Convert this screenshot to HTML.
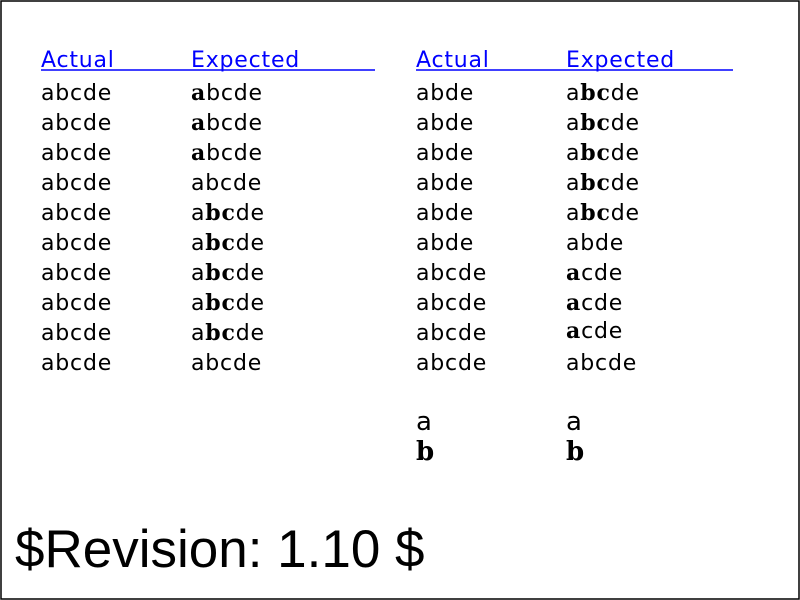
<!DOCTYPE html>
<html><head><style>body{margin:0;background:#fff}svg{display:block}</style></head><body>
<svg width="800" height="600" xmlns="http://www.w3.org/2000/svg">
<rect x="1" y="1" width="798" height="598" fill="#fff" stroke="#000" stroke-width="1.5"/>
<g font-family="DejaVu Sans, sans-serif" font-size="22" fill="#000" letter-spacing="0.8">
<g fill="#00f"><text x="41" y="67">Actual</text><text x="191" y="67">Expected</text>
<text x="416" y="67">Actual</text><text x="566" y="67">Expected</text></g>
<line x1="41" y1="70" x2="375" y2="70" stroke="#00f" stroke-width="1.5"/>
<line x1="416" y1="70" x2="733" y2="70" stroke="#00f" stroke-width="1.5"/>
<text x="41" y="100">abcde</text><text x="41" y="130">abcde</text><text x="41" y="160">abcde</text><text x="41" y="190">abcde</text><text x="41" y="220">abcde</text>
<text x="41" y="250">abcde</text><text x="41" y="280">abcde</text><text x="41" y="310">abcde</text><text x="41" y="340">abcde</text><text x="41" y="370">abcde</text>
<text x="191" y="100"><tspan font-family="DejaVu Serif, serif" font-weight="bold">a</tspan>bcde</text>
<text x="191" y="130"><tspan font-family="DejaVu Serif, serif" font-weight="bold">a</tspan>bcde</text>
<text x="191" y="160"><tspan font-family="DejaVu Serif, serif" font-weight="bold">a</tspan>bcde</text>
<text x="191" y="190">abcde</text>
<text x="191" y="220">a<tspan font-family="DejaVu Serif, serif" font-weight="bold">bc</tspan>de</text>
<text x="191" y="250">a<tspan font-family="DejaVu Serif, serif" font-weight="bold">bc</tspan>de</text>
<text x="191" y="280">a<tspan font-family="DejaVu Serif, serif" font-weight="bold">bc</tspan>de</text>
<text x="191" y="310">a<tspan font-family="DejaVu Serif, serif" font-weight="bold">bc</tspan>de</text>
<text x="191" y="340">a<tspan font-family="DejaVu Serif, serif" font-weight="bold">bc</tspan>de</text>
<text x="191" y="370">abcde</text>
<text x="416" y="100">abde</text><text x="416" y="130">abde</text><text x="416" y="160">abde</text><text x="416" y="190">abde</text><text x="416" y="220">abde</text><text x="416" y="250">abde</text>
<text x="416" y="280">abcde</text><text x="416" y="310">abcde</text><text x="416" y="340">abcde</text><text x="416" y="370">abcde</text>
<text x="566" y="100">a<tspan font-family="DejaVu Serif, serif" font-weight="bold">bc</tspan>de</text>
<text x="566" y="130">a<tspan font-family="DejaVu Serif, serif" font-weight="bold">bc</tspan>de</text>
<text x="566" y="160">a<tspan font-family="DejaVu Serif, serif" font-weight="bold">bc</tspan>de</text>
<text x="566" y="190">a<tspan font-family="DejaVu Serif, serif" font-weight="bold">bc</tspan>de</text>
<text x="566" y="220">a<tspan font-family="DejaVu Serif, serif" font-weight="bold">bc</tspan>de</text>
<text x="566" y="250">abde</text>
<text x="566" y="280"><tspan font-family="DejaVu Serif, serif" font-weight="bold">a</tspan>cde</text>
<text x="566" y="310"><tspan font-family="DejaVu Serif, serif" font-weight="bold">a</tspan>cde</text>
<text x="566" y="338"><tspan font-family="DejaVu Serif, serif" font-weight="bold">a</tspan>cde</text>
<text x="566" y="370">abcde</text>
<text x="416" y="430" font-size="26">a</text><text x="566" y="430" font-size="26">a</text>
<text x="416" y="460" font-size="26" font-family="DejaVu Serif, serif" font-weight="bold">b</text>
<text x="566" y="460" font-size="26" font-family="DejaVu Serif, serif" font-weight="bold">b</text>
</g>
<text x="15" y="567" font-family="Liberation Sans, sans-serif" font-size="53">$Revision: 1.10 $</text>
</svg>
</body></html>
